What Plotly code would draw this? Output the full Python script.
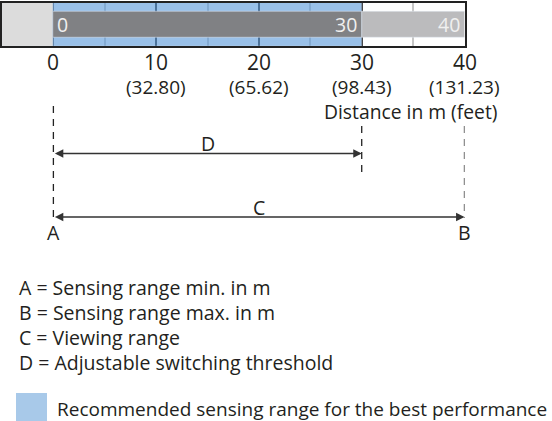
import plotly.graph_objects as go

W, H = 552, 421

# ---- data ----
axis_start = -5          # left end of the scale box (m)
range_min = 0            # A: sensing range min (m)
threshold = 30           # D: adjustable switching threshold (m)
range_max = 40           # B: sensing range max (m)
tick_m = [0, 10, 20, 30, 40]
tick_ft = ["", "(32.80)", "(65.62)", "(98.43)", "(131.23)"]
bar_starts = [range_min, threshold]
bar_ends = [threshold, range_max]
bar_colors = ["#808184", "#bbbbbd"]
bar_labels_left = ["0", ""]
bar_labels_right = ["30", "40"]
legend_lines = [
    "A = Sensing range min. in m",
    "B = Sensing range max. in m",
    "C = Viewing range",
    "D = Adjustable switching threshold",
]
legend_blue = "Recommended sensing range for the best performance"

FONT = "Open Sans"
TXT = "#231f20"
BLUE = "#a8c9e9"
BLUE_T = "rgba(90,154,218,0.62)"


def P(px):
    """pixel row -> paper y"""
    return 1 - px / H


fig = go.Figure()

# background of the scale box
fig.add_trace(go.Bar(y=[0], x=[range_min - axis_start], base=[axis_start], orientation="h",
                     width=1, marker_color="#dcdcdc", showlegend=False, hoverinfo="skip"))
fig.add_trace(go.Bar(y=[0], x=[threshold - range_min], base=[range_min], orientation="h",
                     width=1, marker_color=BLUE_T, showlegend=False, hoverinfo="skip"))
# range bars
fig.add_trace(go.Bar(y=[0, 0], x=[e - s for s, e in zip(bar_starts, bar_ends)], base=bar_starts,
                     orientation="h", width=0.6, marker_color=bar_colors,
                     showlegend=False, hoverinfo="skip"))

ann = []
for s, e, lt, rt in zip(bar_starts, bar_ends, bar_labels_left, bar_labels_right):
    if lt:
        ann.append(dict(x=s, y=0, xref="x", yref="y", text=lt, showarrow=False, xanchor="left",
                        xshift=2, font=dict(size=19.5, color="#f0f0f0", family=FONT)))
    if rt:
        ann.append(dict(x=e, y=0, xref="x", yref="y", text=rt, showarrow=False, xanchor="right",
                        xshift=-3, font=dict(size=19.5, color="#f0f0f0", family=FONT)))

# tick labels: metres and feet
for v, t in zip(tick_m, tick_ft):
    ann.append(dict(x=v, y=P(62), xref="x", yref="paper", text=str(v), showarrow=False,
                    xanchor="center", yanchor="middle", font=dict(size=21, color=TXT, family=FONT)))
    if t:
        ann.append(dict(x=v, y=P(87), xref="x", yref="paper", text=t, showarrow=False,
                        xanchor="center", yanchor="middle", borderpad=0,
                        font=dict(size=19, color=TXT, family=FONT)))

ann.append(dict(x=410 / W, y=P(111), xref="paper", yref="paper", text="Distance in m (feet)",
                showarrow=False, xanchor="center", yanchor="middle", borderpad=0,
                font=dict(size=19.3, color=TXT, family=FONT)))

# dimension arrows
for x0, x1, yy, lab, ly in [(range_min, threshold, 153.5, "D", 143), (range_min, range_max, 217, "C", 207)]:
    ann.append(dict(x=x1, y=P(yy), xref="x", yref="paper", ax=x0, ay=0, axref="x", ayref="pixel",
                    text="", showarrow=True, arrowhead=2, arrowside="end+start", arrowsize=1.3,
                    arrowwidth=1.3, arrowcolor="#333333", standoff=0, startstandoff=0))
    ann.append(dict(x=(x0 + x1) / 2, y=P(ly), xref="x", yref="paper", text=lab, showarrow=False,
                    xanchor="center", yanchor="middle", font=dict(size=19.5, color=TXT, family=FONT)))

ann.append(dict(x=range_min, y=P(233), xref="x", yref="paper", text="A", showarrow=False,
                xanchor="center", yanchor="middle", font=dict(size=19.5, color=TXT, family=FONT)))
ann.append(dict(x=range_max, y=P(233), xref="x", yref="paper", text="B", showarrow=False,
                xanchor="center", yanchor="middle", font=dict(size=19.5, color=TXT, family=FONT)))

# legend text
for i, t in enumerate(legend_lines):
    ann.append(dict(x=17 / W, y=P(287 + 25.3 * i), xref="paper", yref="paper", text=t,
                    showarrow=False, xanchor="left", yanchor="middle",
                    font=dict(size=19.5, color=TXT, family=FONT)))
ann.append(dict(x=55 / W, y=P(409), xref="paper", yref="paper", text=legend_blue,
                showarrow=False, xanchor="left", yanchor="middle",
                font=dict(size=19.0, color=TXT, family=FONT)))

shapes = []
dash = "7px,6px"
for xv, y0, y1 in [(range_min, 106, 218), (threshold, 126, 176), (range_max, 126, 218)]:
    shapes.append(dict(type="line", xref="x", yref="paper", x0=xv, x1=xv, y0=P(y0), y1=P(y1),
                       line=dict(color="#222222", width=1.3, dash=dash)))
shapes.append(dict(type="rect", xref="paper", yref="paper", x0=16 / W, x1=47 / W,
                   y0=P(421), y1=P(393), fillcolor=BLUE, line=dict(width=0)))

fig.update_layout(
    width=W, height=H, autosize=False,
    margin=dict(l=0, r=0, t=0, b=0),
    paper_bgcolor="white", plot_bgcolor="white",
    barmode="overlay", bargap=0,
    annotations=ann, shapes=shapes,
    font=dict(family=FONT, color=TXT),
    xaxis=dict(range=[axis_start, range_max], domain=[2 / W, 464.5 / W],
               tickvals=tick_m, showticklabels=False, ticks="",
               showgrid=True, gridcolor="#333333", gridwidth=1.5,
               minor=dict(dtick=5, tick0=0, showgrid=True, gridcolor="#c6c6c6", gridwidth=1.5),
               showline=True, mirror=True, linecolor="#222222", linewidth=1.5,
               zeroline=False, fixedrange=True),
    yaxis=dict(range=[-0.5, 0.5], domain=[P(46), P(2.5)], showgrid=False,
               showticklabels=False, showline=True, mirror=True, linecolor="#222222",
               linewidth=1.5, zeroline=False, fixedrange=True),
)

fig.write_html(
    "out.html",
    config={"displayModeBar": False, "responsive": False},
    post_script="document.documentElement.style.overflow='hidden';"
                "document.body.style.overflow='hidden';document.body.style.margin='0';",
)
